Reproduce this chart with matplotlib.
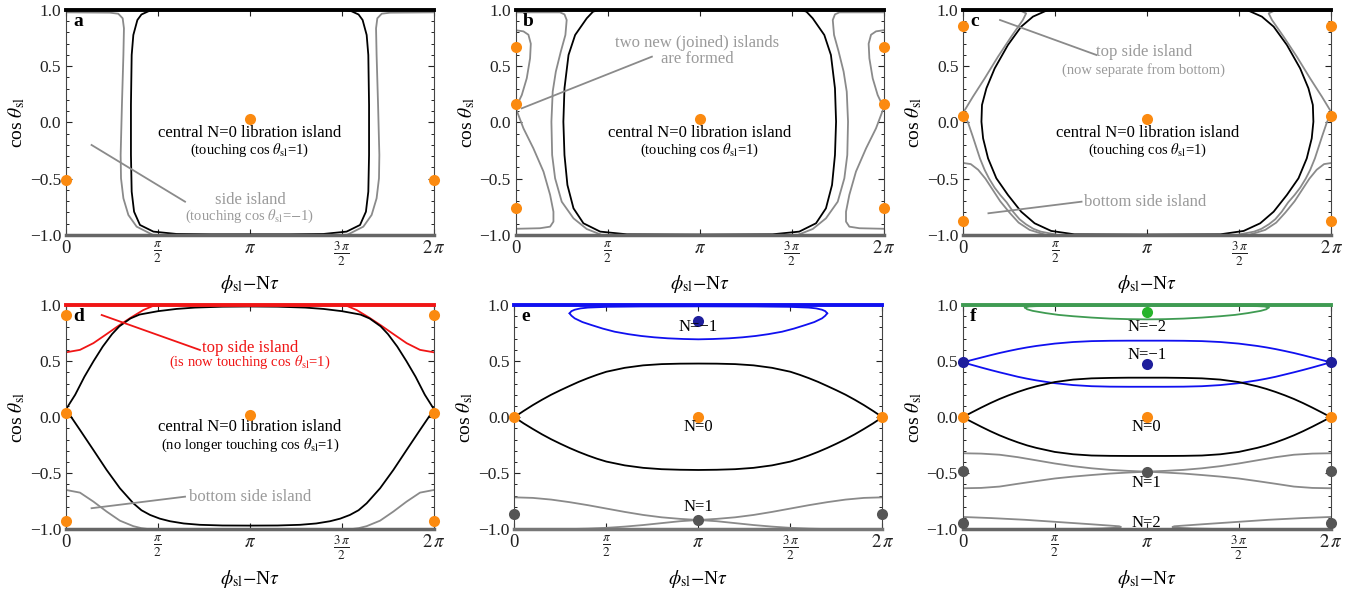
import numpy as np
import matplotlib
matplotlib.use('Agg')
import matplotlib.pyplot as plt

plt.rcParams['font.family'] = 'Liberation Serif'
plt.rcParams['mathtext.fontset'] = 'stix'

# x values are in units of pi. For curves that are symmetric about pi only the
# left half is stored, the right half is its mirror image.

# ---- panel a
a_black_x = [0.493, 0.45, 0.41, 0.388, 0.366, 0.357, 0.353, 0.353, 0.357, 0.370, 0.402, 0.475, 0.601, 0.783, 1.0]
a_black_y = [1.0, 0.99, 0.96, 0.911, 0.778, 0.6, 0.156, -0.289, -0.615, -0.793, -0.911, -0.970, -0.991, -0.994, -0.994]
a_gray_x = [0.0, 0.239, 0.284, 0.308, 0.315, 0.312, 0.304, 0.297, 0.299, 0.312, 0.339, 0.384, 0.466]
a_gray_y = [0.979, 0.976, 0.967, 0.926, 0.837, 0.6, 0.156, -0.289, -0.496, -0.674, -0.822, -0.926, -0.994]
a_dots_x = [0, 1, 2]
a_dots_y = [-0.51, 0.03, -0.51]

# ---- panel b
b_black_x = [0.450, 0.42, 0.386, 0.323, 0.287, 0.265, 0.259, 0.265, 0.281, 0.314, 0.368, 0.459, 0.604, 1.0]
b_black_y = [1.0, 0.985, 0.926, 0.778, 0.6, 0.304, 0.007, -0.289, -0.556, -0.763, -0.896, -0.970, -0.994, -0.996]
b_outer_x = [0.0, 0.241, 0.265, 0.277, 0.270, 0.245, 0.218, 0.201, 0.194, 0.198, 0.214, 0.250, 0.314, 0.386, 0.459]
b_outer_y = [0.979, 0.979, 0.961, 0.911, 0.778, 0.630, 0.452, 0.274, 0.007, -0.289, -0.496, -0.704, -0.852, -0.947, -0.994]
b_inner_x = [0.0, 0.042, 0.069, 0.082, 0.078, 0.060, 0.033, 0.0, 0.042, 0.096, 0.151, 0.187, 0.205, 0.205, 0.187, 0.132, 0.0]
b_inner_y = [0.82, 0.81, 0.78, 0.70, 0.57, 0.393, 0.244, 0.13, -0.052, -0.230, -0.437, -0.644, -0.793, -0.881, -0.926, -0.94, -0.945]
b_dots_x = [0, 0, 0, 1, 2, 2, 2]
b_dots_y = [0.67, 0.16, -0.76, 0.03, 0.67, 0.16, -0.76]

# ---- panel c
c_black_x = [0.459, 0.378, 0.314, 0.242, 0.170, 0.125, 0.101, 0.098, 0.107, 0.134, 0.179, 0.242, 0.314, 0.387, 0.477, 0.603, 1.0]
c_black_y = [1.0, 0.941, 0.852, 0.689, 0.481, 0.304, 0.156, 0.007, -0.141, -0.319, -0.496, -0.644, -0.793, -0.896, -0.964, -0.994, -0.996]
c_top_x = [0.0, 0.314, 0.341, 0.323, 0.260, 0.188, 0.116, 0.052, 0.0]
c_top_y = [0.991, 0.991, 0.970, 0.911, 0.763, 0.585, 0.393, 0.230, 0.09]
c_sep_x = [0.0, 0.025, 0.05, 0.07, 0.09, 0.115, 0.14, 0.17, 0.2, 0.235, 0.27, 0.305, 0.34, 0.38, 0.42, 0.5]
c_sep_y = [0.09, 0.0, -0.12, -0.22, -0.32, -0.42, -0.5, -0.58, -0.644, -0.71, -0.793, -0.86, -0.905, -0.945, -0.97, -0.995]
c_bot_x = [0.0, 0.04, 0.08, 0.12, 0.16, 0.2, 0.25, 0.3, 0.36, 0.44]
c_bot_y = [-0.36, -0.37, -0.42, -0.5, -0.6, -0.7, -0.8, -0.89, -0.955, -0.995]
c_dots_x = [0, 0, 0, 1, 2, 2, 2]
c_dots_y = [0.86, 0.06, -0.88, 0.03, 0.86, 0.06, -0.88]

# ---- panel d
d_red_x = [0.0, 0.076, 0.149, 0.22, 0.29, 0.35, 0.42, 0.47, 0.52]
d_red_y = [0.578, 0.6, 0.66, 0.74, 0.82, 0.885, 0.955, 0.99, 1.0]
d_up_x = [0, 0.05, 0.1, 0.15, 0.2, 0.25, 0.29, 0.35, 0.4, 0.5, 0.6, 0.7, 0.85, 1.0]
d_up_y = [0.07, 0.2, 0.36, 0.5, 0.63, 0.74, 0.81, 0.88, 0.915, 0.945, 0.965, 0.977, 0.985, 0.987]
d_lo_x = [0, 0.076, 0.149, 0.221, 0.293, 0.366, 0.41, 0.457, 0.51, 0.565, 0.64, 0.728, 0.85, 1.0]
d_lo_y = [0.07, -0.114, -0.293, -0.471, -0.634, -0.768, -0.83, -0.872, -0.905, -0.928, -0.948, -0.96, -0.966, -0.967]
d_gray_x = [0, 0.076, 0.149, 0.221, 0.293, 0.366, 0.41, 0.457]
d_gray_y = [-0.649, -0.673, -0.753, -0.842, -0.923, -0.972, -0.99, -1.0]
d_dots_x = [0, 0, 0, 1, 2, 2, 2]
d_dots_y = [0.91, 0.04, -0.93, 0.02, 0.91, 0.04, -0.93]

# ---- panel e
e_blue_up_x = [0.300, 0.31, 0.328, 0.36, 0.4, 0.509, 0.689, 1.0]
e_blue_up_y = [0.926, 0.945, 0.958, 0.97, 0.977, 0.984, 0.987, 0.988]
e_blue_lo_x = [0.300, 0.31, 0.328, 0.37, 0.418, 0.48, 0.545, 0.62, 0.689, 0.76, 0.834, 0.92, 1.0]
e_blue_lo_y = [0.926, 0.905, 0.881, 0.848, 0.822, 0.79, 0.762, 0.74, 0.724, 0.712, 0.703, 0.697, 0.694]
e_black_x = [0, 0.05, 0.1, 0.15, 0.2, 0.25, 0.3, 0.35, 0.4, 0.45, 0.5, 0.6, 0.7, 0.8, 0.9, 1.0]
e_black_up_y = [0, 0.055, 0.107, 0.155, 0.2, 0.24, 0.278, 0.315, 0.348, 0.378, 0.405, 0.44, 0.462, 0.473, 0.477, 0.478]
e_black_lo_y = [0, -0.055, -0.105, -0.153, -0.197, -0.237, -0.275, -0.31, -0.342, -0.371, -0.396, -0.43, -0.452, -0.464, -0.469, -0.471]
e_gray_x = [0, 0.1, 0.2, 0.3, 0.4, 0.5, 0.6, 0.7, 0.8, 0.9, 1.0, 1.1, 1.2, 1.3, 1.4, 1.5, 1.6, 1.7, 1.8, 2.0]
e_gray_y = [-0.715, -0.72, -0.735, -0.758, -0.785, -0.815, -0.845, -0.872, -0.893, -0.907, -0.917, -0.928, -0.945, -0.962, -0.976, -0.987, -0.994, -0.998, -1.0, -1.0]
e_orange_x = [0, 1, 2]
e_orange_y = [0, 0, 0]
e_navy_x = [1]
e_navy_y = [0.857]
e_gdots_x = [0, 1, 2]
e_gdots_y = [-0.865, -0.917, -0.865]
e_labels = ['N=\u22121', 'N=0', 'N=1']
e_label_y = [0.80, -0.085, -0.80]

# ---- panel f
f_x = [0, 0.05, 0.1, 0.15, 0.2, 0.25, 0.3, 0.35, 0.4, 0.5, 0.6, 0.7, 0.8, 0.9, 1.0]
f_blue_up_y = [0.489, 0.51, 0.531, 0.552, 0.572, 0.59, 0.607, 0.622, 0.635, 0.656, 0.670, 0.678, 0.681, 0.682, 0.682]
f_blue_lo_y = [0.489, 0.466, 0.443, 0.421, 0.4, 0.38, 0.36, 0.343, 0.328, 0.303, 0.286, 0.276, 0.272, 0.271, 0.271]
f_black_up_y = [0, 0.043, 0.085, 0.125, 0.162, 0.195, 0.225, 0.252, 0.275, 0.313, 0.335, 0.346, 0.35, 0.352, 0.352]
f_black_lo_y = [0, -0.043, -0.085, -0.125, -0.162, -0.195, -0.225, -0.252, -0.274, -0.31, -0.331, -0.342, -0.345, -0.346, -0.346]
f_gx = [0, 0.1, 0.2, 0.3, 0.4, 0.5, 0.6, 0.7, 0.8, 0.9, 1.0]
f_gray_up_y = [-0.322, -0.325, -0.335, -0.357, -0.385, -0.413, -0.437, -0.456, -0.47, -0.479, -0.486]
f_gray_lo_y = [-0.634, -0.631, -0.619, -0.594, -0.57, -0.547, -0.53, -0.516, -0.503, -0.494, -0.486]
f_green_lo_x = [0.338, 0.35, 0.38, 0.45, 0.52, 0.6, 0.7, 0.8, 0.9, 1.0]
f_green_lo_y = [0.978, 0.962, 0.948, 0.928, 0.912, 0.9, 0.888, 0.879, 0.874, 0.872]
f_green_up_x = [0.338, 0.36, 0.4, 0.6, 1.0]
f_green_up_y = [0.978, 0.987, 0.99, 0.993, 0.995]
f_n2_x = [0, 0.155, 0.336, 0.517, 0.697, 0.80, 0.85, 0.86, 0.84, 0.75, 0.6]
f_n2_y = [-0.89, -0.90, -0.915, -0.935, -0.955, -0.967, -0.973, -0.979, -0.986, -0.993, -0.998]
f_orange_x = [0, 1, 2]
f_orange_y = [0, 0, 0]
f_navy_x = [0, 1, 2]
f_navy_y = [0.49, 0.47, 0.49]
f_green_dot_x = [1]
f_green_dot_y = [0.94]
f_gdots_x = [0, 1, 2, 0, 2]
f_gdots_y = [-0.48, -0.485, -0.48, -0.945, -0.945]
f_labels = ['N=\u22122', 'N=\u22121', 'N=0', 'N=1', 'N=2']
f_label_y = [0.80, 0.554, -0.085, -0.59, -0.946]

ORANGE = '#fb8a10'
GRAY = '#8a8a8a'
TXTGRAY = '#9a9a9a'
DOTGRAY = '#555555'
NAVY = '#1e1e9c'
BLUE = '#1010f0'
GREEN = '#3f9b52'
RED = '#f01515'


def mirror(xs, ys):
    xs = list(xs)
    ys = list(ys)
    return np.array(xs + [2 - x for x in xs[::-1]]) * np.pi, np.array(ys + ys[::-1])


def sym(ax, xs, ys, color, lw=1.3):
    # curve symmetric about pi, drawn as one line
    x, y = mirror(xs, ys)
    ax.plot(x, y, color=color, lw=lw)


def side(ax, xs, ys, color, lw=1.3):
    # curve on the left side plus its mirror image on the right
    x = np.array(xs) * np.pi
    ax.plot(x, ys, color=color, lw=lw)
    ax.plot(2 * np.pi - x, ys, color=color, lw=lw)


def dots(ax, xs, ys, color):
    ax.plot(np.array(xs) * np.pi, ys, 'o', color=color, ms=8, mec='none', clip_on=False, zorder=5)


def edges(ax, top, bottom):
    ax.plot([0, 2 * np.pi], [1, 1], color=top, lw=2.8, clip_on=False, zorder=4)
    ax.plot([0, 2 * np.pi], [-1, -1], color=bottom, lw=2.5, clip_on=False, zorder=4)


def setup(ax, letter):
    ax.set_xlim(0, 2 * np.pi)
    ax.set_ylim(-1, 1)
    ax.set_xticks([0, np.pi / 2, np.pi, 3 * np.pi / 2, 2 * np.pi])
    ax.set_xticklabels(['0', r'$\frac{\pi}{2}$', r'$\pi$', r'$\frac{3\,\pi}{2}$', r'$2\,\pi$'])
    ax.set_yticks([-1, -0.5, 0, 0.5, 1])
    ax.set_yticklabels(['\u22121.0', '\u22120.5', '0.0', '0.5', '1.0'])
    ax.set_yticks(np.arange(-0.9, 1.0, 0.1), minor=True)
    ax.tick_params(direction='in', top=True, right=True, length=4, width=0.8, labelsize=12.5, colors='#222222')
    ax.tick_params(which='minor', direction='in', left=True, right=True, length=2, width=0.6)
    ax.tick_params(axis='x', labelsize=13.5)
    for s in ax.spines.values():
        s.set_color('#444444')
        s.set_linewidth(0.8)
    ax.set_ylabel(r'cos $\theta_{\rm sl}$', fontsize=14, labelpad=2)
    ax.set_xlabel(r'$\phi_{\rm sl}$$-$N$\tau$', fontsize=14, labelpad=4)
    ax.text(0.12, 0.9, letter, fontsize=14, fontweight='bold', va='center')


def central(ax, second):
    ax.text(np.pi, -0.09, 'central N=0 libration island', ha='center', va='center', fontsize=12, zorder=6)
    ax.text(np.pi, -0.25, second, ha='center', va='center', fontsize=10.5, zorder=6)


def note(ax, lines, x0, y0, x1, y1, color, lcolor):
    ax.plot([x0 * np.pi, x1 * np.pi], [y0, y1], color=lcolor, lw=1.3)
    for txt, xt, yt, fs in lines:
        ax.text(xt * np.pi, yt, txt, ha='center', va='center', fontsize=fs, color=color)


fig = plt.figure(figsize=(13.55, 5.91), dpi=100)
W = 0.2716
ax_a = fig.add_axes([0.0487, 0.6024, W, 0.3807])
ax_b = fig.add_axes([0.3806, 0.6024, W, 0.3807])
ax_c = fig.add_axes([0.7110, 0.6024, W, 0.3807])
ax_d = fig.add_axes([0.0487, 0.1044, W, 0.3795])
ax_e = fig.add_axes([0.3796, 0.1044, W, 0.3795])
ax_f = fig.add_axes([0.7105, 0.1044, W, 0.3795])

touching = r'(touching cos $\theta_{\rm sl}$=1)'

# a
sym(ax_a, a_black_x, a_black_y, 'black')
side(ax_a, a_gray_x, a_gray_y, GRAY)
edges(ax_a, 'black', '#666666')
dots(ax_a, a_dots_x, a_dots_y, ORANGE)
central(ax_a, touching)
note(ax_a, [('side island', 1.0, -0.69, 12),
            (r'(touching cos $\theta_{\rm sl}$=$-$1)', 1.0, -0.83, 10.5)],
     0.139, -0.2, 0.647, -0.704, TXTGRAY, GRAY)
setup(ax_a, 'a')

# b
sym(ax_b, b_black_x, b_black_y, 'black')
side(ax_b, b_outer_x, b_outer_y, GRAY)
side(ax_b, b_inner_x, b_inner_y, GRAY)
edges(ax_b, 'black', '#666666')
dots(ax_b, b_dots_x, b_dots_y, ORANGE)
central(ax_b, touching)
note(ax_b, [('two new (joined) islands', 0.985, 0.71, 12), ('are formed', 0.985, 0.56, 12)],
     0.033, 0.126, 0.74, 0.585, TXTGRAY, GRAY)
setup(ax_b, 'b')

# c
sym(ax_c, c_black_x, c_black_y, 'black')
side(ax_c, c_top_x, c_top_y, GRAY)
side(ax_c, c_sep_x, c_sep_y, GRAY)
side(ax_c, c_bot_x, c_bot_y, GRAY)
edges(ax_c, 'black', '#666666')
dots(ax_c, c_dots_x, c_dots_y, ORANGE)
central(ax_c, touching)
note(ax_c, [('top side island', 0.98, 0.63, 12), ('(now separate from bottom)', 0.98, 0.47, 10.5)],
     0.199, 0.911, 0.723, 0.6, TXTGRAY, GRAY)
note(ax_c, [('bottom side island', 0.985, -0.704, 12)],
     0.136, -0.807, 0.642, -0.704, TXTGRAY, GRAY)
setup(ax_c, 'c')

# d
side(ax_d, d_red_x, d_red_y, RED)
sym(ax_d, d_up_x, d_up_y, 'black')
sym(ax_d, d_lo_x, d_lo_y, 'black')
side(ax_d, d_gray_x, d_gray_y, GRAY)
edges(ax_d, RED, '#666666')
dots(ax_d, d_dots_x, d_dots_y, ORANGE)
ax_d.text(np.pi, -0.09, 'central N=0 libration island', ha='center', va='center', fontsize=12)
ax_d.text(np.pi, -0.255, r'(no longer touching cos $\theta_{\rm sl}$=1)', ha='center', va='center', fontsize=10.5)
note(ax_d, [('top side island', 1.0, 0.62, 12),
            (r'(is now touching cos $\theta_{\rm sl}$=1)', 1.0, 0.485, 10.5)],
     0.194, 0.911, 0.728, 0.599, RED, RED)
note(ax_d, [('bottom side island', 1.0, -0.709, 12)],
     0.139, -0.812, 0.647, -0.709, TXTGRAY, GRAY)
setup(ax_d, 'd')

# e
sym(ax_e, e_blue_up_x, e_blue_up_y, BLUE)
sym(ax_e, e_blue_lo_x, e_blue_lo_y, BLUE)
sym(ax_e, e_black_x, e_black_up_y, 'black')
sym(ax_e, e_black_x, e_black_lo_y, 'black')
side(ax_e, e_gray_x, e_gray_y, GRAY)
edges(ax_e, BLUE, '#777777')
dots(ax_e, e_orange_x, e_orange_y, ORANGE)
dots(ax_e, e_navy_x, e_navy_y, NAVY)
dots(ax_e, e_gdots_x, e_gdots_y, DOTGRAY)
for lab, yl in zip(e_labels, e_label_y):
    ax_e.text(np.pi, yl, lab, ha='center', va='center', fontsize=12, zorder=6)
setup(ax_e, 'e')

# f
sym(ax_f, f_green_up_x, f_green_up_y, GREEN)
sym(ax_f, f_green_lo_x, f_green_lo_y, GREEN)
sym(ax_f, f_x, f_blue_up_y, BLUE)
sym(ax_f, f_x, f_blue_lo_y, BLUE)
sym(ax_f, f_x, f_black_up_y, 'black')
sym(ax_f, f_x, f_black_lo_y, 'black')
sym(ax_f, f_gx, f_gray_up_y, GRAY)
sym(ax_f, f_gx, f_gray_lo_y, GRAY)
side(ax_f, f_n2_x, f_n2_y, GRAY)
edges(ax_f, GREEN, '#666666')
dots(ax_f, f_orange_x, f_orange_y, ORANGE)
dots(ax_f, f_navy_x, f_navy_y, NAVY)
dots(ax_f, f_green_dot_x, f_green_dot_y, '#27b42b')
dots(ax_f, f_gdots_x, f_gdots_y, DOTGRAY)
for lab, yl in zip(f_labels, f_label_y):
    ax_f.text(np.pi, yl, lab, ha='center', va='center', fontsize=12, zorder=6)
setup(ax_f, 'f')

fig.savefig('out.png', dpi=100)
